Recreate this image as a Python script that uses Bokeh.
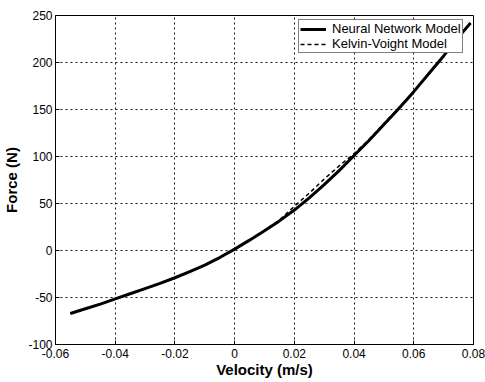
from bokeh.plotting import figure
from bokeh.models import FixedTicker, Legend, LegendItem, Range1d
from bokeh.embed import file_html
from bokeh.resources import INLINE

# Damper force vs. velocity
velocity = [-0.055, -0.05, -0.045, -0.04, -0.035, -0.03, -0.025, -0.02, -0.015,
            -0.01, -0.005, 0.0, 0.005, 0.01, 0.015, 0.02, 0.025, 0.03, 0.035,
            0.04, 0.045, 0.05, 0.055, 0.06, 0.065, 0.07, 0.075, 0.079]
force_nn = [-67, -62, -57, -51.5, -46, -40.5, -35, -29, -22.5,
            -15.5, -7.5, 1.5, 11, 21, 31.5, 43, 56, 70, 85,
            101, 117, 134, 151, 169, 188, 207, 227, 242]
force_kv = [-67, -62, -57, -51.5, -46, -40.5, -35, -29, -22.5,
            -15.5, -7.5, 1.5, 11, 21, 32.5, 47, 61, 76, 90,
            103, 118, 135, 152, 169, 188, 207, 227, 242]

x_ticks = [-0.06, -0.04, -0.02, 0.0, 0.02, 0.04, 0.06, 0.08]
x_labels = ["-0.06", "-0.04", "-0.02", "0", "0.02", "0.04", "0.06", "0.08"]
y_ticks = [-100, -50, 0, 50, 100, 150, 200, 250]
y_labels = ["-100", "-50", "0", "50", "100", "150", "200", "250"]

FONT = "Liberation Sans"

p = figure(width=485, height=382, output_backend="svg", toolbar_location=None,
           x_range=Range1d(-0.06, 0.08), y_range=Range1d(-100, 250),
           min_border_left=53, min_border_right=12, min_border_top=15,
           min_border_bottom=38)
p.background_fill_color = "white"
p.border_fill_color = "white"
p.outline_line_color = "black"
p.outline_line_width = 1

for ax in (p.xaxis[0], p.yaxis[0]):
    ax.major_label_text_font = FONT
    ax.major_label_text_font_size = "12px"
    ax.major_label_text_color = "black"
    ax.axis_label_text_font = FONT
    ax.axis_label_text_font_style = "bold"
    ax.axis_label_text_font_size = "15px"
    ax.axis_label_text_color = "black"
    ax.axis_line_color = "black"
    ax.major_tick_line_color = "black"
    ax.major_tick_in = 4
    ax.major_tick_out = 0
    ax.minor_tick_line_color = None

p.xaxis.ticker = FixedTicker(ticks=x_ticks)
p.yaxis.ticker = FixedTicker(ticks=y_ticks)
p.xaxis.major_label_overrides = dict(zip(x_ticks, x_labels))
p.yaxis.major_label_overrides = dict(zip(y_ticks, y_labels))
p.xaxis.axis_label = "Velocity (m/s)"
p.yaxis.axis_label = "Force (N)"
p.xaxis.major_label_standoff = 4
p.yaxis.major_label_standoff = 3
p.xaxis.axis_label_standoff = 0
p.yaxis.axis_label_standoff = 5

for g in (p.xgrid[0], p.ygrid[0]):
    g.grid_line_color = "black"
    g.grid_line_dash = "2 3"
    g.grid_line_width = 1
    g.grid_line_alpha = 0.9

nn = p.line(velocity, force_nn, line_color="black", line_width=3,
            line_join="round")
kv = p.line(velocity, force_kv, line_color="black", line_width=1.5,
            line_dash="4 3")

legend = Legend(items=[LegendItem(label="Neural Network Model", renderers=[nn]),
                       LegendItem(label="Kelvin-Voight Model", renderers=[kv])],
                location=(243, 291))
legend.label_text_font = FONT
legend.label_text_font_size = "13px"
legend.label_text_color = "black"
legend.label_standoff = 6
legend.label_width = 128
legend.glyph_width = 26
legend.glyph_height = 12
legend.label_height = 12
legend.spacing = 0
legend.padding = 1
legend.margin = 0
legend.border_line_color = "black"
legend.border_line_width = 1
legend.background_fill_color = "white"
legend.background_fill_alpha = 1
p.add_layout(legend)

open("out.html", "w").write(file_html(p, INLINE))
